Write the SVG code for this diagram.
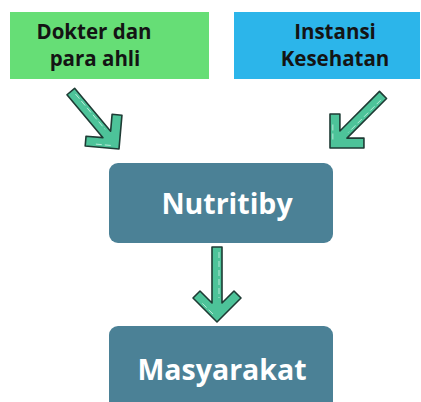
<svg xmlns="http://www.w3.org/2000/svg" width="421" height="402" viewBox="0 0 421 402">
  <style>
    .label { font-family: "Open Sans", "Liberation Sans", sans-serif; font-weight: bold; text-anchor: middle; }
    .dark { fill: #141414; font-size: 20.5px; }
    .light { fill: #ffffff; font-size: 28.5px; }
    .arrow { fill: #4dc399; stroke: #1e3b34; stroke-width: 1.6; stroke-linejoin: round; }
    .hl { fill: none; stroke: #d9f5ea; stroke-width: 0.9; stroke-dasharray: 6 3; opacity: 0.8; }
  </style>
  <defs>
    <!-- down-pointing arrow, tip at origin -->
    <g id="arrowDown">
      <polygon class="arrow" points="0,0 -24,-24 -17,-31 -5,-19 -5,-75 5,-75 5,-19 17,-31 24,-24"/>
      <path class="hl" d="M2,-70 V-24 M-4,-8 L-16,-20"/>
    </g>
  </defs>
  <rect width="421" height="402" fill="#ffffff"/>

  <g id="dokter">
    <rect x="10" y="12" width="199" height="67" fill="#66de76"/>
    <text class="label dark" x="94" y="39">Dokter dan</text>
    <text class="label dark" x="95" y="66">para ahli</text>
  </g>

  <g id="instansi">
    <rect x="234" y="12" width="186" height="67" fill="#2cb5ea"/>
    <text class="label dark" x="335" y="39">Instansi</text>
    <text class="label dark" x="335" y="66">Kesehatan</text>
  </g>

  <g id="nutritiby">
    <rect x="109" y="163" width="224" height="80" rx="9" fill="#4b8196"/>
    <text class="label light" x="227" y="214">Nutritiby</text>
  </g>

  <g id="masyarakat">
    <rect x="109" y="326" width="224" height="86" rx="9" fill="#4b8196"/>
    <text class="label light" x="222" y="380">Masyarakat</text>
  </g>

  <g id="connectors">
    <use href="#arrowDown" transform="translate(119,149) rotate(-40)"/>
    <use href="#arrowDown" transform="translate(330,148) rotate(45)"/>
    <use href="#arrowDown" transform="translate(217,322)"/>
  </g>
</svg>
